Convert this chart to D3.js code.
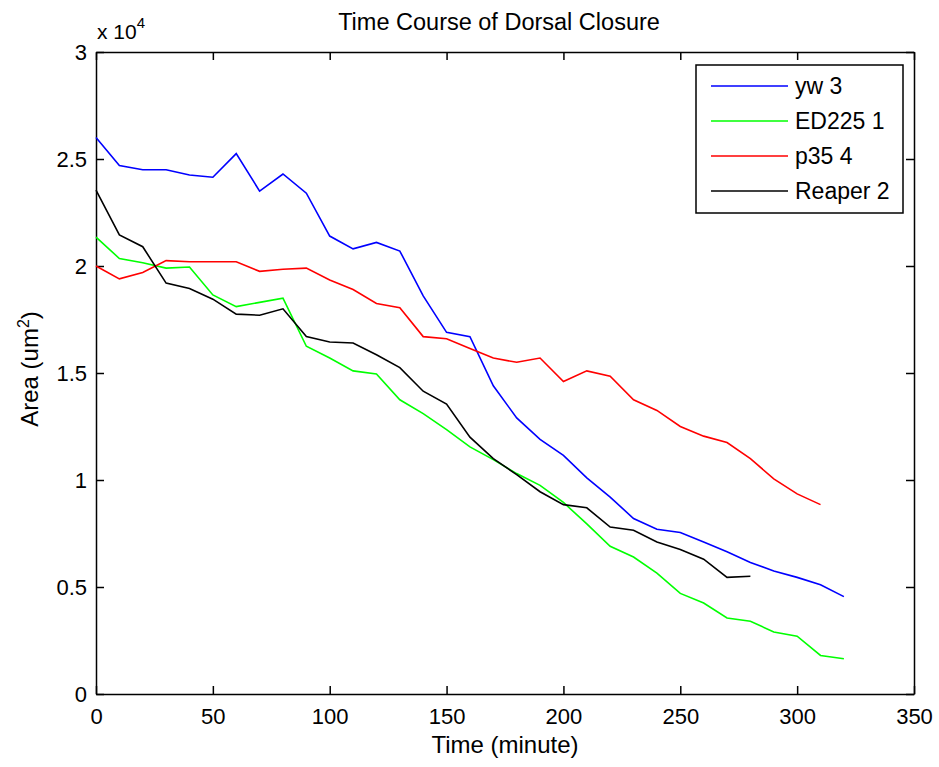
<!DOCTYPE html>
<html>
<head>
<meta charset="utf-8">
<script src="https://cdn.jsdelivr.net/npm/d3@7.9.0/dist/d3.min.js"></script>
<style>
  body { margin: 0; background: #fff; }
  svg { display: block; font-family: "Liberation Sans", Arial, sans-serif; }
</style>
</head>
<body>
<svg id="chart" width="939" height="767"></svg>
<script>
/* ── data (area in um², time in minutes) ── */
const times = d3.range(0, 330, 10);   // 0,10,...,320 sample times

const yw3 = [26000, 24700, 24500, 24500, 24250, 24150, 25250, 23500, 24300, 23400,
             21400, 20800, 21100, 20700, 18600, 16900, 16700, 14400, 12900, 11900,
             11150, 10100, 9200, 8200, 7700, 7550, 7100, 6650, 6150, 5750,
             5450, 5100, 4550];
const ed225 = [21350, 20350, 20150, 19900, 19950, 18650, 18100, 18300, 18500, 16250,
               15700, 15100, 14950, 13750, 13100, 12350, 11550, 10950, 10300, 9750,
               8950, 7950, 6900, 6400, 5650, 4700, 4250, 3550, 3400, 2900,
               2700, 1800, 1650];
const p35 = [20000, 19400, 19700, 20250, 20200, 20200, 20200, 19750, 19850, 19900,
             19350, 18900, 18250, 18050, 16700, 16600, 16150, 15700, 15500, 15700,
             14600, 15100, 14850, 13750, 13250, 12500, 12050, 11750, 11000, 10050,
             9350, 8850];
const reaper2 = [23550, 21450, 20900, 19200, 18950, 18450, 17750, 17700, 18000, 16700,
                 16450, 16400, 15850, 15250, 14150, 13550, 12000, 11000, 10250, 9450,
                 8850, 8700, 7800, 7650, 7100, 6750, 6300, 5450, 5500];

const seriesNames  = ['yw 3', 'ED225 1', 'p35 4', 'Reaper 2'];
const seriesValues = [yw3, ed225, p35, reaper2];
const seriesColors = ['#0000ff', '#00ff00', '#ff0000', '#000000'];

const xTicks = [0, 50, 100, 150, 200, 250, 300, 350];
const yTicks = [0, 5000, 10000, 15000, 20000, 25000, 30000];

/* ── layout ── */
const svg = d3.select('#chart');
const mLeft = 96, mRight = 914, mTop = 52, mBottom = 694;

const x = d3.scaleLinear().domain([0, 350]).range([mLeft, mRight]);
const y = d3.scaleLinear().domain([0, 30000]).range([mBottom, mTop]);

/* axes box (MATLAB style, ticks pointing in) */
svg.append('g')
   .attr('transform', `translate(0,${mBottom})`)
   .call(d3.axisBottom(x).tickValues(xTicks).tickSizeInner(-8).tickSizeOuter(0).tickPadding(14))
   .call(g => g.selectAll('text').attr('font-size', 22).attr('fill', '#000'));

svg.append('g')
   .attr('transform', `translate(${mLeft},0)`)
   .call(d3.axisLeft(y).tickValues(yTicks).tickFormat(d => d / 1e4)
           .tickSizeInner(-8).tickSizeOuter(0).tickPadding(9))
   .call(g => g.selectAll('text').attr('font-size', 22).attr('fill', '#000'));

svg.append('g')
   .attr('transform', `translate(0,${mTop})`)
   .call(d3.axisTop(x).tickValues(xTicks).tickSizeInner(-8).tickSizeOuter(0).tickFormat(''));

svg.append('g')
   .attr('transform', `translate(${mRight},0)`)
   .call(d3.axisRight(y).tickValues(yTicks).tickSizeInner(-8).tickSizeOuter(0).tickFormat(''));

svg.selectAll('.domain').attr('stroke', '#000').attr('stroke-width', 1.5);
svg.selectAll('.tick line').attr('stroke', '#000').attr('stroke-width', 1.5);

/* ── lines ── */
const line = d3.line()
  .x((d, i) => x(times[i]))
  .y(d => y(d));

svg.append('g')
  .selectAll('path')
  .data(seriesValues)
  .join('path')
    .attr('d', line)
    .attr('fill', 'none')
    .attr('stroke', (d, i) => seriesColors[i])
    .attr('stroke-width', 1.6);

/* ── texts ── */
svg.append('text')
   .attr('x', 499).attr('y', 30)
   .attr('text-anchor', 'middle')
   .attr('font-size', 23.5)
   .text('Time Course of Dorsal Closure');

svg.append('text')
   .attr('x', (mLeft + mRight) / 2).attr('y', 753)
   .attr('text-anchor', 'middle')
   .attr('font-size', 24)
   .text('Time (minute)');

const yl = svg.append('text')
   .attr('transform', 'translate(38,369) rotate(-90)')
   .attr('text-anchor', 'middle')
   .attr('font-size', 24);
yl.append('tspan').text('Area (um');
yl.append('tspan').attr('font-size', 16).attr('dy', -9).text('2');
yl.append('tspan').attr('dy', 9).text(')');

const ex = svg.append('text')
   .attr('x', 97).attr('y', 39)
   .attr('font-size', 21);
ex.append('tspan').text('x 10');
ex.append('tspan').attr('font-size', 15).attr('dy', -11).text('4');

/* ── legend ── */
const legend = svg.append('g');
legend.append('rect')
  .attr('x', 696).attr('y', 65).attr('width', 207).attr('height', 148)
  .attr('fill', '#fff').attr('stroke', '#000').attr('stroke-width', 1.5);

const rows = legend.selectAll('g.row')
  .data(seriesNames)
  .join('g')
    .attr('class', 'row')
    .attr('transform', (d, i) => `translate(0,${86 + i * 35})`);

rows.append('line')
  .attr('x1', 711).attr('x2', 788)
  .attr('stroke', (d, i) => seriesColors[i])
  .attr('stroke-width', 1.6);

rows.append('text')
  .attr('x', 795).attr('dy', '0.36em')
  .attr('font-size', 23)
  .text(d => d);
</script>
</body>
</html>
